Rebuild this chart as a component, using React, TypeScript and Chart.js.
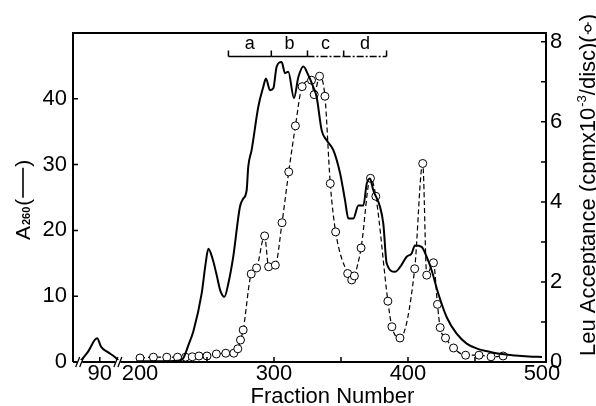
import React, { useEffect, useRef } from 'react';
import { Chart, registerables } from 'chart.js';

Chart.register(...registerables);

// ---- data ----
// fractions of the early (broken-axis) region are shifted onto the axis by EARLY_SHIFT
const EARLY_SHIFT = 80;
const earlyFractions = [75, 81, 88, 91, 96, 101, 104];
const earlyA260 = [0, 1.5, 3.6, 2.3, 1.5, 0.8, 0.2];

const a260Fractions = [198, 215, 228, 232, 236, 240, 246, 249, 251, 254, 257, 260, 263, 266, 269.6, 274.6, 277, 279.6, 280.8, 283.3, 288.3, 292, 294, 297, 299.5, 302, 305.7, 308.2, 310.7, 314.9, 318.2, 321.9, 325.6, 329.3, 331.8, 335.6, 339.3, 344.3, 349.3, 353, 355.5, 359.2, 363, 366.7, 369.2, 371.6, 374.1, 379.1, 381.6, 384.1, 390.3, 394, 399, 402.7, 405.2, 410.2, 413.9, 417.7, 422.6, 428.9, 436.3, 443.8, 452, 460, 470, 480, 490, 500];
const a260Values = [0.1, 0.1, 0.2, 0.5, 2.5, 4.8, 10.4, 15, 17.2, 15.8, 13.4, 10.8, 9.9, 12, 16.0, 23.6, 24.8, 26.1, 29.7, 32.2, 38.8, 41.8, 43.1, 41.3, 41.6, 44.9, 45.6, 43.9, 44.1, 40.1, 43.3, 44.9, 43.6, 41.8, 40.3, 35.2, 33.7, 32.2, 28.7, 24.6, 21.8, 21.8, 23.8, 23.8, 27.1, 27.9, 26.1, 23.6, 21.0, 15.0, 13.7, 14.4, 16.0, 16.5, 17.7, 17.5, 16.0, 13.9, 10.4, 6.8, 4.3, 2.8, 2.0, 1.6, 1.2, 1.0, 0.85, 0.75];

const leuFractions = [200, 210, 220, 228, 234, 239, 244, 250, 257, 264, 270, 273, 275, 277, 283, 287, 293, 296, 301, 306, 311, 316, 321, 328, 330, 334, 338, 342, 346, 355, 358, 360, 365, 372, 376, 385, 388, 394, 405, 411, 414, 419, 422, 424, 428, 434, 443, 453, 462, 471];
const leuValues = [0.10, 0.12, 0.12, 0.12, 0.12, 0.13, 0.15, 0.15, 0.20, 0.22, 0.22, 0.33, 0.55, 0.80, 2.20, 2.35, 3.15, 2.38, 2.42, 3.48, 4.75, 5.90, 6.88, 7.04, 6.68, 7.14, 6.64, 4.46, 3.25, 2.21, 2.05, 2.15, 2.85, 4.59, 4.14, 1.52, 0.88, 0.60, 2.33, 4.96, 2.17, 2.48, 1.44, 0.86, 0.60, 0.35, 0.17, 0.17, 0.13, 0.15];

const xLabelTicks = [90 + EARLY_SHIFT, 200, 300, 400, 500];
const xMarkTicks = [90 + EARLY_SHIFT, 250, 300, 350, 400, 450];
const axisBreaks = [155, 183.5];
const leftTicks = [0, 10, 20, 30, 40];
const rightLabelTicks = [0, 2, 4, 6, 8];
const rightMarkTicks = [1, 2, 3, 4, 5, 6, 7, 8];
const bracketBounds = [266, 298, 325, 352, 384];
const bracketLabels = ['a', 'b', 'c', 'd'];

const FONT = '"Liberation Sans", Arial, Helvetica, sans-serif';

const decorPlugin = {
  id: 'decor',
  afterDraw(chart: any) {
    const { ctx, chartArea: a, scales } = chart;
    const xs = scales.x, yl = scales.y, yr = scales.y1;
    ctx.save();
    ctx.strokeStyle = '#000';
    ctx.fillStyle = '#000';
    ctx.lineCap = 'butt';
    // frame
    ctx.lineWidth = 2;
    ctx.beginPath();
    ctx.moveTo(a.left, a.bottom);
    ctx.lineTo(a.left, a.top);
    ctx.lineTo(a.right, a.top);
    ctx.lineTo(a.right, a.bottom);
    ctx.lineTo(a.left, a.bottom);
    ctx.stroke();
    // inward ticks
    ctx.lineWidth = 1.5;
    ctx.beginPath();
    for (const v of leftTicks) {
      const y = yl.getPixelForValue(v);
      ctx.moveTo(a.left, y);
      ctx.lineTo(a.left + 5, y);
    }
    for (const v of rightMarkTicks) {
      const y = yr.getPixelForValue(v);
      ctx.moveTo(a.right, y);
      ctx.lineTo(a.right - 5, y);
    }
    for (const v of xMarkTicks) {
      const x = xs.getPixelForValue(v);
      ctx.moveTo(x, a.bottom);
      ctx.lineTo(x, a.bottom - 5);
    }
    ctx.stroke();
    // axis breaks
    for (const b of axisBreaks) {
      const px = xs.getPixelForValue(b);
      ctx.fillStyle = '#fff';
      ctx.fillRect(px - 2.5, a.bottom - 2, 5, 4);
      ctx.fillStyle = '#000';
      ctx.lineWidth = 1.3;
      ctx.beginPath();
      for (const d of [-2, 2]) {
        ctx.moveTo(px + d - 2, a.bottom + 5);
        ctx.lineTo(px + d + 2, a.bottom - 5);
      }
      ctx.stroke();
    }
    // bracket
    const by = a.top + 23.5;
    ctx.lineWidth = 1.5;
    for (let i = 0; i < bracketLabels.length; i++) {
      const x0 = xs.getPixelForValue(bracketBounds[i]);
      const x1 = xs.getPixelForValue(bracketBounds[i + 1]);
      ctx.setLineDash(i >= 2 ? [7, 2, 2, 2] : []);
      ctx.beginPath();
      ctx.moveTo(x0, by);
      ctx.lineTo(x1, by);
      ctx.stroke();
    }
    ctx.setLineDash([]);
    ctx.beginPath();
    for (const b of bracketBounds) {
      const x = xs.getPixelForValue(b);
      ctx.moveTo(x, by);
      ctx.lineTo(x, by - 6);
    }
    ctx.stroke();
    ctx.font = `18px ${FONT}`;
    ctx.textAlign = 'center';
    ctx.textBaseline = 'alphabetic';
    for (let i = 0; i < bracketLabels.length; i++) {
      const x = (xs.getPixelForValue(bracketBounds[i]) + xs.getPixelForValue(bracketBounds[i + 1])) / 2;
      ctx.fillText(bracketLabels[i], x, a.top + 16);
    }
    // x title
    ctx.font = `22px ${FONT}`;
    ctx.fillText('Fraction Number', (a.left + a.right) / 2 + 23, 403);
    // left title
    ctx.save();
    ctx.translate(30, 240);
    ctx.rotate(-Math.PI / 2);
    ctx.textAlign = 'left';
    ctx.font = `21px ${FONT}`;
    ctx.fillText('A', 0, 0);
    let w = ctx.measureText('A').width;
    ctx.font = `bold 11px ${FONT}`;
    ctx.fillText('260', w + 1, 0);
    w += 1 + ctx.measureText('260').width;
    ctx.font = `21px ${FONT}`;
    ctx.fillText('(', w + 1, 0);
    w += 1 + ctx.measureText('(').width;
    ctx.lineWidth = 1.6;
    ctx.beginPath();
    ctx.moveTo(w + 1, -7);
    ctx.lineTo(w + 31, -7);
    ctx.stroke();
    ctx.fillText(')', w + 32, 0);
    ctx.restore();
    // right title
    ctx.save();
    ctx.translate(595, 356);
    ctx.rotate(-Math.PI / 2);
    ctx.textAlign = 'left';
    ctx.font = `22px ${FONT}`;
    let t = 'Leu Acceptance (cpmx10';
    ctx.fillText(t, 0, 0);
    let rw = ctx.measureText(t).width;
    ctx.font = `13px ${FONT}`;
    ctx.fillText('-3', rw + 1, -9);
    rw += 1 + ctx.measureText('-3').width;
    ctx.font = `22px ${FONT}`;
    t = '/disc)(';
    ctx.fillText(t, rw, 0);
    rw += ctx.measureText(t).width;
    ctx.lineWidth = 1.2;
    ctx.beginPath();
    ctx.moveTo(rw + 1, -7);
    ctx.lineTo(rw + 4, -7);
    ctx.moveTo(rw + 10, -7);
    ctx.lineTo(rw + 13, -7);
    ctx.stroke();
    ctx.beginPath();
    ctx.arc(rw + 7, -7, 3, 0, Math.PI * 2);
    ctx.stroke();
    ctx.fillText(')', rw + 14, 0);
    ctx.restore();
    ctx.restore();
  },
};

export default function App() {
  const ref = useRef<HTMLCanvasElement | null>(null);
  useEffect(() => {
    if (!ref.current) return;
    Chart.defaults.font.family = FONT;
    const tickFont = { size: 22, family: FONT, lineHeight: 1 };
    const chart = new Chart(ref.current, {
      type: 'line',
      data: {
        datasets: [
          {
            label: 'early',
            data: earlyFractions.map((f, i) => ({ x: f + EARLY_SHIFT, y: earlyA260[i] })),
            borderColor: '#000',
            borderWidth: 2,
            pointRadius: 0,
            cubicInterpolationMode: 'monotone',
            yAxisID: 'y',
            clip: false,
          },
          {
            label: 'A260',
            data: a260Fractions.map((f, i) => ({ x: f, y: a260Values[i] })),
            borderColor: '#000',
            borderWidth: 2,
            pointRadius: 0,
            cubicInterpolationMode: 'monotone',
            yAxisID: 'y',
            clip: false,
          },
          {
            label: 'Leu',
            data: leuFractions.map((f, i) => ({ x: f, y: leuValues[i] })),
            borderColor: '#000',
            borderWidth: 1.2,
            borderDash: [5, 3],
            pointRadius: 4,
            pointBackgroundColor: '#fff',
            pointBorderColor: '#000',
            pointBorderWidth: 1,
            cubicInterpolationMode: 'monotone',
            yAxisID: 'y1',
            clip: false,
          },
        ],
      },
      options: {
        responsive: false,
        animation: false,
        layout: { padding: { top: 33, left: 0, right: 0, bottom: 0 } },
        plugins: { legend: { display: false }, tooltip: { enabled: false } },
        scales: {
          x: {
            type: 'linear',
            min: 150,
            max: 503,
            grid: { display: false, drawTicks: false },
            border: { display: false },
            afterBuildTicks: (s: any) => {
              s.ticks = xLabelTicks.map((v) => ({ value: v }));
            },
            afterFit: (s: any) => {
              s.height = 44;
            },
            ticks: {
              autoSkip: false,
              maxRotation: 0,
              padding: 1,
              color: '#000',
              font: tickFont,
              callback: (v: any) => String(v < 190 ? v - EARLY_SHIFT : v),
            },
          },
          y: {
            position: 'left',
            min: 0,
            max: 50,
            grid: { display: false, drawTicks: false },
            border: { display: false },
            afterBuildTicks: (s: any) => {
              s.ticks = leftTicks.map((v) => ({ value: v }));
            },
            afterFit: (s: any) => {
              s.width = 73;
            },
            ticks: { padding: 6, color: '#000', font: tickFont },
          },
          y1: {
            position: 'right',
            min: 0,
            max: 8.22,
            grid: { display: false, drawTicks: false },
            border: { display: false },
            afterBuildTicks: (s: any) => {
              s.ticks = rightLabelTicks.map((v) => ({ value: v }));
            },
            afterFit: (s: any) => {
              s.width = 50;
            },
            ticks: { padding: 4, color: '#000', font: tickFont },
          },
        },
      },
      plugins: [decorPlugin],
    } as any);
    return () => chart.destroy();
  }, []);
  return (
    <canvas
      ref={ref}
      width={596}
      height={406}
      style={{ position: 'absolute', left: 0, top: 0, width: 596, height: 406, background: '#fff' }}
    />
  );
}
